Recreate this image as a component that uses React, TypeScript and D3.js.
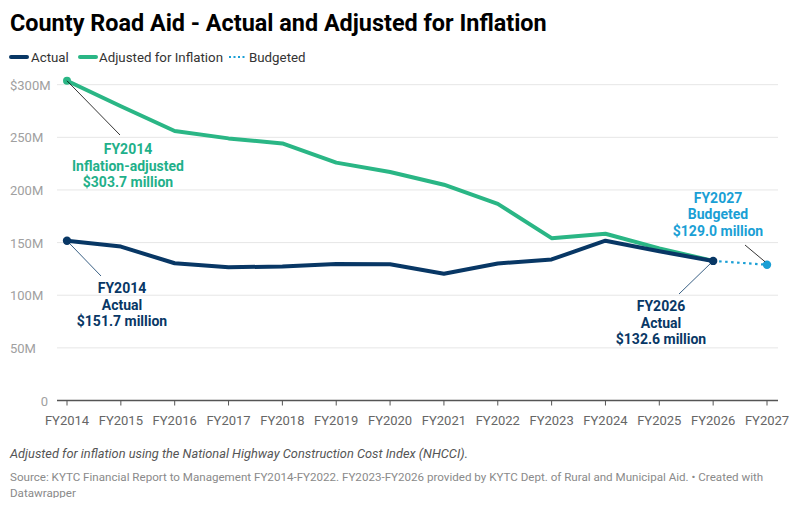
import React from "react";
import { scaleLinear, line, curveLinear } from "d3";

const years = ["FY2014", "FY2015", "FY2016", "FY2017", "FY2018", "FY2019", "FY2020", "FY2021", "FY2022", "FY2023", "FY2024", "FY2025", "FY2026", "FY2027"];
// $ millions
const actual = [151.7, 146.2, 130.4, 126.5, 127.4, 129.6, 129.5, 120.4, 130.2, 134.0, 151.8, 141.7, 132.6];
const adjusted = [303.7, 279.5, 256.0, 249.0, 244.2, 226.0, 217.0, 205.0, 186.8, 154.2, 158.4, 144.5, 132.6];
const budgeted = [132.6, 129.0]; // FY2026 -> FY2027
const yTicks = [0, 50, 100, 150, 200, 250, 300];

const NAVY = "#083765";
const GREEN = "#2ab685";
const GREEN_TEXT = "#1fb08a";
const BLUE = "#1a9fd5";
const FONT = "Roboto, sans-serif";

const App: React.FC = () => {
  const width = 800;
  const height = 506;

  const x = scaleLinear().domain([0, years.length - 1]).range([67, 767]);
  const y = scaleLinear().domain([0, 300]).range([400.5, 84.7]);

  const path = line<number>()
    .x((d, i) => x(i))
    .y((d) => y(d))
    .curve(curveLinear);

  const budgetPath = line<number>()
    .x((d, i) => x(12 + i))
    .y((d) => y(d));

  const yLabel = (t: number) => (t === 0 ? "0" : t === 300 ? `$${t}M` : `${t}M`);

  const annotation = (lines: string[], cx: number, top: number, color: string) => (
    <text textAnchor="middle" fontFamily={FONT} fontWeight={700} fontSize={14} fill={color}>
      {lines.map((l, i) => (
        <tspan key={l} x={cx} y={top + i * 16.7}>
          {l}
        </tspan>
      ))}
    </text>
  );

  return (
    <div style={{ width, height, margin: -8, background: "#fff" }}>
      <svg width={width} height={height} style={{ display: "block" }}>
        <rect width={width} height={height} fill="#fff" />
        <text x={10} y={31} fontFamily={FONT} fontWeight={700} fontSize={23.4} fill="#000">
          County Road Aid - Actual and Adjusted for Inflation
        </text>

        {/* legend */}
        <g fontFamily={FONT} fontSize={13.3} fill="#333">
          <line x1={11} x2={27} y1={57} y2={57} stroke={NAVY} strokeWidth={4} strokeLinecap="round" />
          <text x={31} y={61.5}>Actual</text>
          <line x1={80} x2={96} y1={57} y2={57} stroke={GREEN} strokeWidth={4} strokeLinecap="round" />
          <text x={99} y={61.5}>Adjusted for Inflation</text>
          <line x1={229} x2={245} y1={57} y2={57} stroke={BLUE} strokeWidth={2} strokeDasharray="2 2.5" />
          <text x={249} y={61.5}>Budgeted</text>
        </g>

        {/* grid */}
        {yTicks.map((t) => (
          <g key={t}>
            {t > 0 && <line x1={57} x2={778} y1={y(t)} y2={y(t)} stroke="#e6e6e6" strokeWidth={1} />}
            <text x={t === 0 ? 48 : 10} y={y(t) + 5} textAnchor={t === 0 ? "end" : "start"} fontFamily={FONT} fontSize={13} fill="#a0a0a0">
              {yLabel(t)}
            </text>
          </g>
        ))}
        <line x1={57} x2={778} y1={y(0)} y2={y(0)} stroke="#555" strokeWidth={1.5} />
        {years.map((yr, i) => (
          <g key={yr}>
            <line x1={x(i)} x2={x(i)} y1={y(0)} y2={y(0) + 5} stroke="#555" strokeWidth={1} />
            <text x={x(i)} y={y(0) + 24} textAnchor="middle" fontFamily={FONT} fontSize={13} fill="#666">
              {yr}
            </text>
          </g>
        ))}

        {/* lines */}
        <path d={path(adjusted) || ""} fill="none" stroke={GREEN} strokeWidth={4} strokeLinejoin="round" />
        <circle cx={x(0)} cy={y(adjusted[0])} r={4} fill={GREEN} />
        <path d={budgetPath(budgeted) || ""} fill="none" stroke={BLUE} strokeWidth={2.2} strokeDasharray="2.5 3.5" />
        <circle cx={x(13)} cy={y(budgeted[1])} r={4.2} fill={BLUE} />
        <path d={path(actual) || ""} fill="none" stroke={NAVY} strokeWidth={4} strokeLinejoin="round" />
        <circle cx={x(0)} cy={y(actual[0])} r={4.2} fill={NAVY} />
        <circle cx={x(12)} cy={y(actual[12])} r={4.2} fill={NAVY} />

        {/* annotation connectors */}
        <line x1={x(0)} y1={y(adjusted[0])} x2={120} y2={135} stroke="#000" strokeWidth={0.8} />
        <line x1={x(0)} y1={y(actual[0])} x2={101} y2={276} stroke={NAVY} strokeWidth={0.8} />
        <line x1={x(12)} y1={y(actual[12])} x2={679} y2={294} stroke={NAVY} strokeWidth={0.8} />
        <line x1={745} y1={245} x2={x(13) - 2} y2={y(budgeted[1]) - 3} stroke="#000" strokeWidth={0.8} />

        {annotation(["FY2014", "Inflation-adjusted", "$303.7 million"], 128, 154, GREEN_TEXT)}
        {annotation(["FY2014", "Actual", "$151.7 million"], 122, 293, NAVY)}
        {annotation(["FY2026", "Actual", "$132.6 million"], 661, 311, NAVY)}
        {annotation(["FY2027", "Budgeted", "$129.0 million"], 718, 202.5, BLUE)}

        {/* footer */}
        <text x={10} y={458} fontFamily={FONT} fontStyle="italic" fontSize={12.8} fill="#555">
          Adjusted for inflation using the National Highway Construction Cost Index (NHCCI).
        </text>
        <text fontFamily={FONT} fontSize={11.6} fill="#8a8a8a">
          <tspan x={10} y={481}>
            Source: KYTC Financial Report to Management FY2014-FY2022. FY2023-FY2026 provided by KYTC Dept. of Rural and Municipal Aid. • Created with
          </tspan>
          <tspan x={10} y={497}>Datawrapper</tspan>
        </text>
      </svg>
    </div>
  );
};

export default App;
